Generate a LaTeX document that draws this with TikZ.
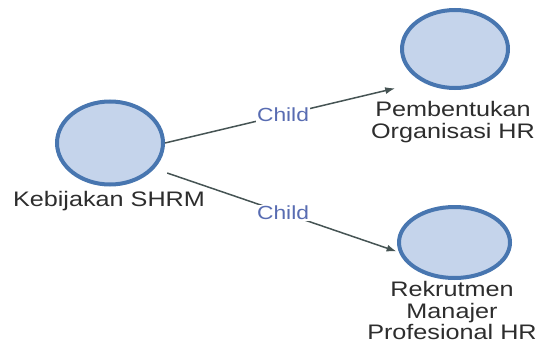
\documentclass[tikz,border=0pt]{standalone}
\usepackage{fontspec}
\setmainfont[FakeStretch=1.2]{Liberation Sans}
\usetikzlibrary{arrows.meta,shapes.geometric}
\definecolor{nodefill}{RGB}{197,212,235}
\definecolor{nodeline}{RGB}{72,118,176}
\definecolor{edgecol}{RGB}{70,84,84}
\definecolor{labelcol}{RGB}{88,108,178}
\definecolor{textcol}{RGB}{45,45,45}
\begin{document}
\begin{tikzpicture}[x=1pt,y=1pt,
  entity/.style={ellipse, draw=nodeline, fill=nodefill, line width=4pt, inner sep=0pt},
  caption/.style={text=textcol, font=\fontsize{21}{21.5}\selectfont, align=center, anchor=base, inner sep=0pt},
  relation/.style={draw=edgecol, line width=1.5pt, -{Latex[length=10pt,width=7pt]}},
  rel label/.style={fill=white, text=labelcol, font=\fontsize{19}{19}\selectfont, inner sep=1pt}]
  \useasboundingbox (0,0) rectangle (537,346);

  % entities
  \node[entity, minimum width=106pt, minimum height=83pt] (kb) at (110,203) {};
  \node[entity, minimum width=106pt, minimum height=78pt] (pb) at (455,297) {};
  \node[entity, minimum width=111pt, minimum height=71pt] (rk) at (454.5,103.5) {};

  % entity names (base anchor sits on the last line)
  \node[caption] (kbtext) at (109,139.3) {Kebijakan SHRM};
  \node[caption] (pbtext) at (453,208) {Pembentukan\\Organisasi HR};
  \node[caption] (rktext) at (452,6.5) {Rekrutmen\\Manajer\\Profesional HR};

  % relations
  \draw[relation, shorten >=27.7pt] (kb.east) -- node[rel label, pos=0.459] (c1) {Child} (pb.225);
  \draw[relation, shorten <=13.5pt, shorten >=2.5pt] (kb.330) -- node[rel label, pos=0.526] (c2) {Child} (rk.190);
\end{tikzpicture}
\end{document}
